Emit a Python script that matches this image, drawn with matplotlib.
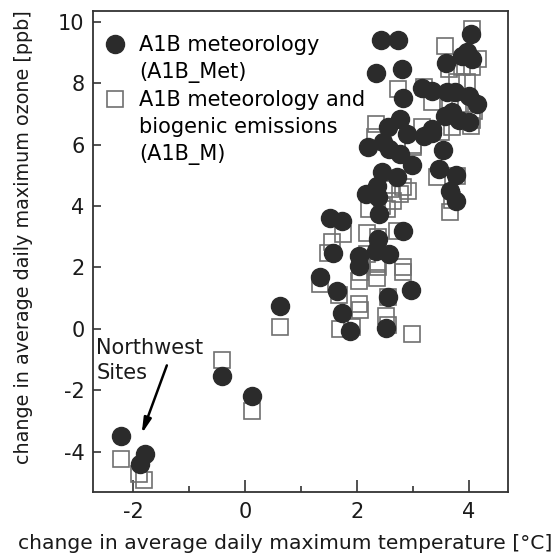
import numpy as np
import matplotlib
matplotlib.use('Agg')
import matplotlib.pyplot as plt
from matplotlib.lines import Line2D

plt.rcParams['axes.unicode_minus'] = False

# A1B meteorology (A1B_Met): filled circles
met_dt = [-2.22, -1.79, -1.88, -0.42, 0.12, 0.63, 1.34, 1.65, 1.74, 1.88,
          2.52, 2.55, 2.96, 1.57, 2.04, 2.04, 2.34, 2.58, 2.38, 2.83,
          1.51, 1.74, 2.40, 2.16, 2.37, 2.36, 2.45, 2.71, 2.99, 2.19,
          2.47, 2.58, 2.77, 2.55, 2.77, 2.89, 3.19, 3.34, 3.54, 3.47,
          3.77, 3.67, 3.77, 2.82, 3.17, 3.34, 3.61, 3.76, 4.00, 4.15,
          3.58, 3.70, 3.82, 4.00, 3.34, 3.59, 3.88, 4.05, 3.97, 4.04,
          2.43, 2.74, 2.34, 2.80]
met_do3 = [-3.48, -4.07, -4.40, -1.55, -2.20, 0.73, 1.68, 1.22, 0.52, -0.06,
           0.03, 1.05, 1.25, 2.46, 2.36, 2.06, 2.53, 2.44, 2.93, 3.18,
           3.60, 3.52, 3.75, 4.40, 4.31, 4.67, 5.10, 4.96, 5.35, 5.92,
           6.10, 5.85, 5.70, 6.57, 6.84, 6.35, 6.27, 6.37, 5.83, 5.21,
           5.01, 4.50, 4.18, 7.52, 7.84, 7.76, 7.71, 7.71, 7.60, 7.33,
           6.95, 7.06, 6.79, 6.75, 6.51, 8.65, 8.90, 8.80, 9.01, 9.59,
           9.41, 9.41, 8.33, 8.47]

# A1B meteorology and biogenic emissions (A1B_M): open squares
m_dt = [-2.22, -1.89, -1.80, -0.42, 0.12, 0.63, 1.34, 1.67, 2.04, 2.36,
        2.83, 2.04, 2.06, 2.56, 2.52, 2.56, 1.70, 1.91, 2.98, 1.55,
        1.49, 1.75, 2.18, 2.38, 2.71, 2.09, 2.36, 2.18, 2.38, 2.83,
        2.06, 2.21, 2.53, 2.65, 2.77, 2.92, 2.83, 3.43, 3.79, 3.67,
        3.70, 3.01, 2.34, 2.33, 3.16, 3.70, 4.03, 2.74, 3.19, 3.34,
        3.67, 3.79, 3.97, 3.64, 3.88, 4.05, 4.17, 3.58, 4.05, 4.05,
        2.60, 2.45, 3.00, 3.50, 3.85, 4.10]
m_do3 = [-4.23, -4.72, -4.91, -1.03, -2.66, 0.07, 1.47, 1.10, 1.57, 1.65,
         1.84, 0.81, 0.60, 1.05, 0.43, 0.11, 0.00, 0.07, -0.16, 2.82,
         2.48, 3.09, 3.12, 2.98, 3.20, 2.12, 2.10, 2.44, 2.00, 2.00,
         1.84, 3.91, 3.91, 4.18, 4.40, 4.50, 4.61, 4.94, 4.97, 3.82,
         4.20, 5.92, 6.68, 6.24, 6.57, 6.57, 6.62, 7.82, 7.87, 7.38,
         7.44, 8.03, 8.03, 8.47, 8.52, 8.52, 8.79, 9.23, 9.77, 6.79,
         4.55, 4.00, 6.00, 6.40, 7.20, 7.10]

x_ticks = [-2, 0, 2, 4]
y_ticks = [-4, -2, 0, 2, 4, 6, 8, 10]

txt = '#1a1a1a'
fs = 15

fig = plt.figure(figsize=(5.57, 5.58), dpi=100)
ax = fig.add_axes([0.167, 0.118, 0.745, 0.862])

ax.plot(m_dt, m_do3, 's', ms=12, mfc='none', mec='#707070', mew=1.2, zorder=2)
ax.plot(met_dt, met_do3, 'o', ms=13, mfc='#2b2b2b', mec='#2b2b2b', zorder=3)

ax.set_xlim(-2.72, 4.70)
ax.set_ylim(-5.32, 10.35)
ax.set_xticks(x_ticks)
ax.set_xticks([-1, 1, 3], minor=True)
ax.set_yticks(y_ticks)
ax.tick_params(axis='both', which='both', direction='in', colors='#333333',
               labelcolor=txt, labelsize=fs, width=1.2, top=False, right=False)
ax.tick_params(axis='x', which='major', length=8.5, pad=7)
ax.tick_params(axis='x', which='minor', length=4)
ax.tick_params(axis='y', which='major', length=6, pad=6)
for s in ax.spines.values():
    s.set_color('#333333')
    s.set_linewidth(1.3)

ax.set_xlabel('change in average daily maximum temperature [°C]', fontsize=14.6,
              color=txt, x=0.463, labelpad=9)
ax.set_ylabel('change in average daily maximum ozone [ppb]', fontsize=13.8,
              color=txt, y=0.53, labelpad=18)

# legend, one row per text line so the markers sit on the first line
blank = Line2D([], [], linestyle='none')
handles = [Line2D([], [], marker='o', linestyle='none', ms=13, mfc='#2b2b2b', mec='#2b2b2b'),
           blank,
           Line2D([], [], marker='s', linestyle='none', ms=12, mfc='none', mec='#707070', mew=1.2),
           blank, blank]
labels = ['A1B meteorology', '(A1B_Met)', 'A1B meteorology and',
          'biogenic emissions', '(A1B_M)']
ax.legend(handles, labels, loc='upper left', frameon=False, fontsize=fs,
          handlelength=0.7, handletextpad=0.8, labelspacing=0.33,
          borderaxespad=0.3, bbox_to_anchor=(0.0, 0.98))

# Northwest sites annotation
ax.text(-2.66, -0.30, 'Northwest\nSites', fontsize=fs, color=txt, ha='left', va='top',
        linespacing=1.3)
ax.annotate('', xy=(-1.85, -3.42), xytext=(-1.40, -1.19),
            arrowprops=dict(arrowstyle='-|>,head_width=0.22,head_length=0.9',
                            color='black', lw=1.8, shrinkA=0, shrinkB=0))

plt.savefig('out.png', dpi=100)
